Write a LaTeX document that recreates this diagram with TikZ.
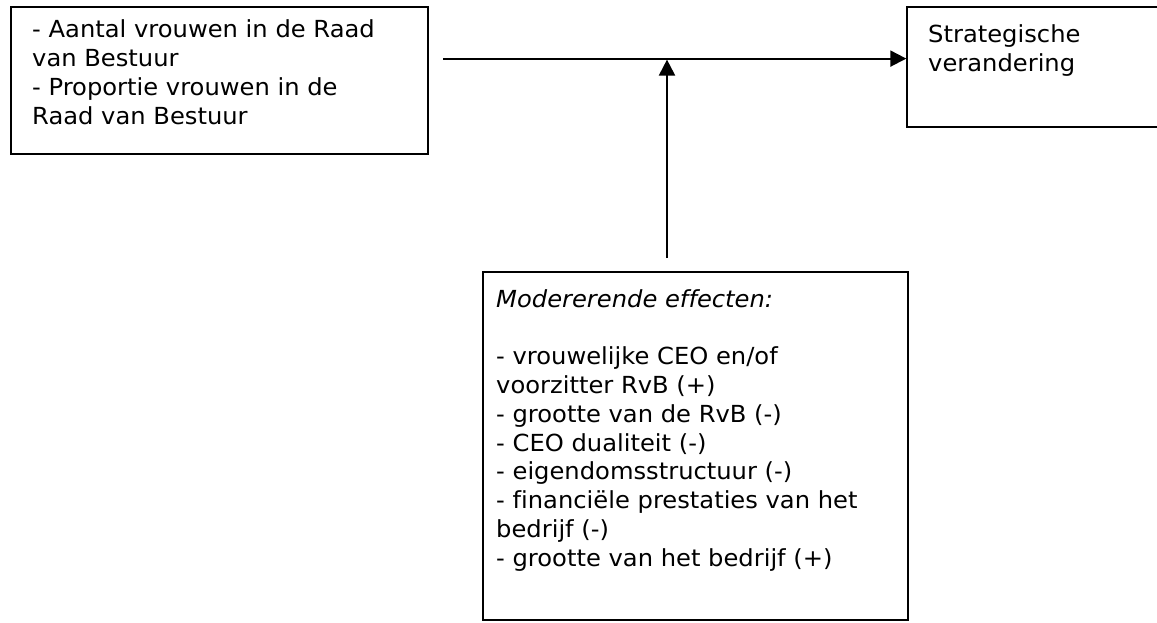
\documentclass[tikz,border=0pt]{standalone}
\usepackage{fontspec}
\setmainfont{DejaVu Sans}[FakeStretch=1.03,Ligatures=NoCommon]
\usetikzlibrary{arrows.meta}
\begin{document}
\begin{tikzpicture}[x=1pt,y=-1pt,
  box/.style={draw=black,line width=2pt,fill=none},
  txt/.style={anchor=base west,inner sep=0pt,align=left,font=\fontsize{23.5}{28.8}\selectfont},
  conn/.style={line width=2pt,-{Triangle[length=16pt,width=16pt]}}]
\useasboundingbox (0,0) rectangle (1157,623);
\clip (0,0) rectangle (1157,623);
\draw[box] (11,7) rectangle (428,154);
\draw[box] (907,7) rectangle (1170,127);
\node[inner sep=0pt] (B) at (907,58.6) {};
\draw[box] (483,272) rectangle (908,620);
\coordinate (Astart) at (443,58.6);
\coordinate (Cstart) at (667,258);
\coordinate (J) at (667,59.6);
\node[txt] (tA) at (32,124.4) {- Aantal vrouwen in de Raad\\van Bestuur\\- Proportie vrouwen in de\\Raad van Bestuur};
\node[txt] (tB) at (928,71.6) {Strategische\\verandering};
\node[txt] (tC) at (496,566.2) {\textit{Modererende effecten:}\\[28.8pt]- vrouwelijke CEO en/of\\voorzitter RvB (+)\\- grootte van de RvB (-)\\- CEO dualiteit (-)\\- eigendomsstructuur (-)\\- financiële prestaties van het\\bedrijf (-)\\- grootte van het bedrijf (+)};
\draw[conn] (Astart) -- (B);
\draw[conn] (Cstart) -- (J);
\end{tikzpicture}
\end{document}
